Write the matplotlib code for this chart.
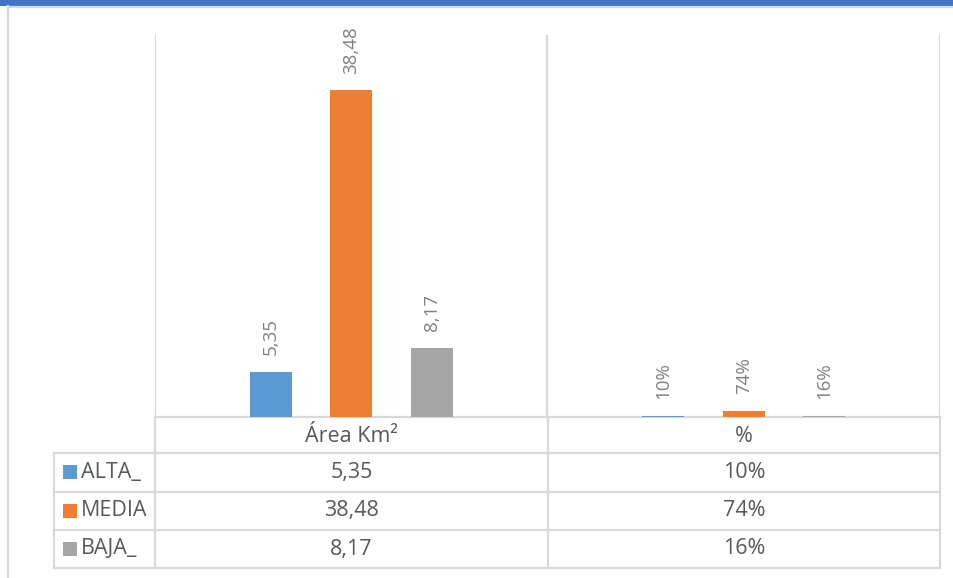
import matplotlib.pyplot as plt
from matplotlib.patches import Rectangle

plt.rcParams['font.family'] = ['Open Sans', 'DejaVu Sans']

categories = ['Área Km²', '%']
series = ['ALTA_', 'MEDIA', 'BAJA_']
colors = ['#5B9BD5', '#ED7D31', '#A5A5A5']
area_km2 = [5.35, 38.48, 8.17]
percent = [0.10, 0.74, 0.16]
area_labels = ['5,35', '38,48', '8,17']
percent_labels = ['10%', '74%', '16%']

W, H = 954, 578
grid_c = '#D9D9D9'
txt_c = '#595959'
lbl_c = '#808080'

fig = plt.figure(figsize=(W / 100, H / 100), dpi=100)

# plot area in pixel coords: x 155..940, y 35..417
ax = fig.add_axes([155 / W, 1 - 417 / H, 785 / W, 382 / H])
bar_w = 0.107
offsets = [-0.205, 0, 0.205]
for i, name in enumerate(series):
    vals = [area_km2[i], percent[i]]
    labs = [area_labels[i], percent_labels[i]]
    xs = [c + offsets[i] for c in range(len(categories))]
    bars = ax.bar(xs, vals, width=bar_w, color=colors[i], zorder=3)
    ax.bar_label(bars, labels=labs, rotation=90, padding=12,
                 fontsize=13.5, color=lbl_c)
ax.set_xlim(-0.5, 1.5)
ax.set_ylim(0, 45)
ax.set_xticks([-0.5, 0.5, 1.5])
ax.set_yticks([])
ax.tick_params(length=0, labelbottom=False)
ax.grid(axis='x', color=grid_c, linewidth=1.6)
for s in ['left', 'right', 'top']:
    ax.spines[s].set_visible(False)
ax.spines['bottom'].set_color(grid_c)
ax.spines['bottom'].set_linewidth(1.6)

# overlay for frame and data table (pixel coords)
ov = fig.add_axes([0, 0, 1, 1], zorder=-1)
ov.set_xlim(0, W)
ov.set_ylim(H, 0)
ov.axis('off')

ov.add_patch(Rectangle((0, 0), W, 6, color='#4472C4', lw=0))
ov.plot([8.5, 8.5], [6, H], color=grid_c, lw=1.6)
ov.plot([8, W], [6.8, 6.8], color=grid_c, lw=1.6)

col_x = [155, 548, 940]
row_y = [417, 453, 491.5, 530, 568]
tbl_left = 54
for y in row_y[1:]:
    ov.plot([tbl_left, col_x[-1]], [y, y], color=grid_c, lw=1.6)
ov.plot([tbl_left, tbl_left], [row_y[1], row_y[-1]], color=grid_c, lw=1.6)
ov.plot([col_x[0], col_x[0]], [row_y[0], row_y[-1]], color=grid_c, lw=1.6)
for x in col_x[1:]:
    ov.plot([x, x], [row_y[0], row_y[-1]], color=grid_c, lw=1.6)

# header row
for j, cat in enumerate(categories):
    cx = (col_x[j] + col_x[j + 1]) / 2
    ov.text(cx, (row_y[0] + row_y[1]) / 2 + 1, cat, ha='center', va='center',
            fontsize=15.5, color=txt_c)

# data rows
for i, name in enumerate(series):
    cy = (row_y[i + 1] + row_y[i + 2]) / 2
    ov.add_patch(Rectangle((63, cy - 7), 14, 14, color=colors[i], lw=0))
    ov.text(81, cy, name, ha='left', va='center', fontsize=15.5, color=txt_c)
    row_vals = [area_labels[i], percent_labels[i]]
    for j, v in enumerate(row_vals):
        cx = (col_x[j] + col_x[j + 1]) / 2
        ov.text(cx, cy, v, ha='center', va='center', fontsize=15.5, color=txt_c)

fig.savefig('out.png', dpi=100)
